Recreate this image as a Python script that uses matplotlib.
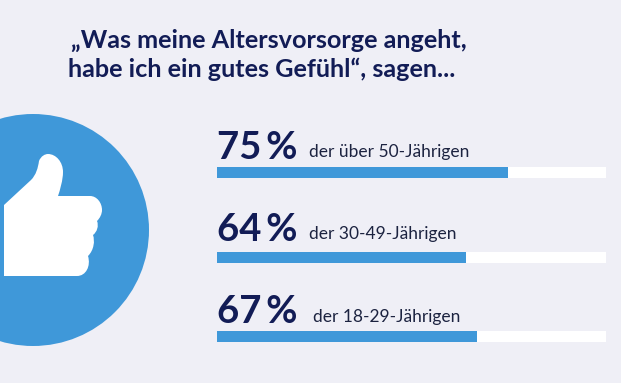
import matplotlib
matplotlib.use("Agg")
import matplotlib.pyplot as plt
from matplotlib.patches import Circle, PathPatch
from matplotlib.path import Path

W, H = 621, 383
BG = "#efeff6"
BLUE = "#3f98d9"
NAVY = "#121c56"

labels = ["der über 50-Jährigen", "der 30-49-Jährigen", "der 18-29-Jährigen"]
values = [75, 64, 67]
title_lines = ["„Was meine Altersvorsorge angeht,", "habe ich ein gutes Gefühl“, sagen..."]

bar_y = [172.5, 257.5, 336]
bar_h = 11
value_base = [159, 241, 323]
label_base = [157, 239, 322]
label_x = [309, 309, 313]

plt.rcParams["font.family"] = ["Lato", "DejaVu Sans"]

fig = plt.figure(figsize=(W / 100, H / 100), dpi=100, facecolor=BG)

# overlay in pixel coords for the decoration and text
ax = fig.add_axes([0, 0, 1, 1])
ax.set_xlim(0, W)
ax.set_ylim(H, 0)
ax.axis("off")

ax.add_patch(Circle((33, 230), 116, color=BLUE, lw=0))

verts = [
    (4, 205), (31, 180),
    (36, 175), (38, 168), (39, 161),
    (41, 156), (45, 154), (48, 154),
    (56, 154), (63, 162), (63, 172),
    (63, 180), (60, 190), (58, 196),
    (90, 196), (90, 196),
    (97, 196), (102, 203), (102, 210),
    (102, 214), (100, 218), (97, 221),
    (99, 226), (97, 232), (93, 235),
    (95, 241), (94, 250), (88, 256),
    (91, 266), (86, 276), (77, 276),
    (4, 276), (4, 205),
]
codes = [
    Path.MOVETO, Path.LINETO,
    Path.CURVE4, Path.CURVE4, Path.CURVE4,
    Path.CURVE4, Path.CURVE4, Path.CURVE4,
    Path.CURVE4, Path.CURVE4, Path.CURVE4,
    Path.CURVE4, Path.CURVE4, Path.CURVE4,
    Path.LINETO, Path.LINETO,
    Path.CURVE4, Path.CURVE4, Path.CURVE4,
    Path.CURVE4, Path.CURVE4, Path.CURVE4,
    Path.CURVE4, Path.CURVE4, Path.CURVE4,
    Path.CURVE4, Path.CURVE4, Path.CURVE4,
    Path.CURVE4, Path.CURVE4, Path.CURVE4,
    Path.LINETO, Path.CLOSEPOLY,
]
ax.add_patch(PathPatch(Path(verts, codes), fc="white", ec="none"))

ax.text(71, 48, title_lines[0], fontsize=18.2, fontweight="bold", color=NAVY, ha="left", va="baseline")
ax.text(68, 77, title_lines[1], fontsize=18.2, fontweight="bold", color=NAVY, ha="left", va="baseline")

# bars, x axis is percent
bx = fig.add_axes([217 / W, 0, (605.5 - 217) / W, 1])
bx.set_xlim(0, 100)
bx.set_ylim(H, 0)
bx.axis("off")
bx.barh(bar_y, [100] * 3, height=bar_h, color="white", lw=0)
bx.barh(bar_y, values, height=bar_h, color=BLUE, lw=0)

for v, lab, vb, lb, lx in zip(values, labels, value_base, label_base, label_x):
    ax.text(217, vb, f"{v}\u2009%", fontsize=27.5, fontweight="bold", color=NAVY, ha="left", va="baseline")
    ax.text(lx, lb, lab, fontsize=12.5, color="#1c2340", ha="left", va="baseline")

fig.savefig("out.png", dpi=100, facecolor=BG)
